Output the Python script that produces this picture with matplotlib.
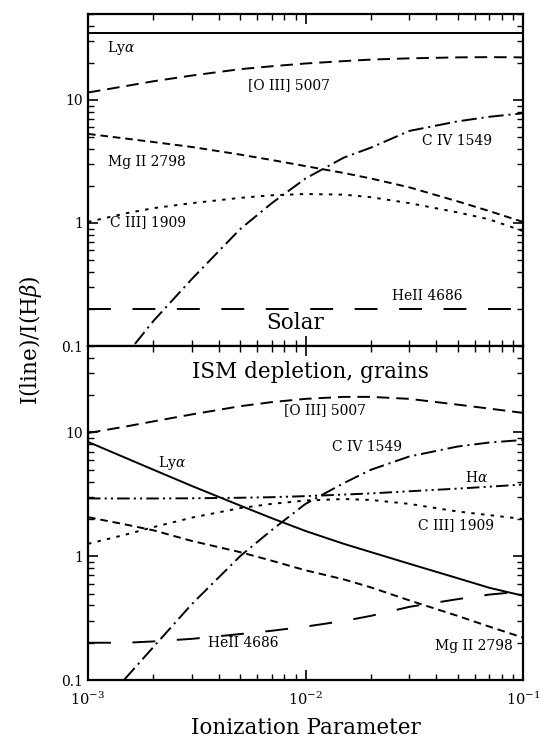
import numpy as np
import matplotlib
matplotlib.use('Agg')
import matplotlib.pyplot as plt
from matplotlib.ticker import FuncFormatter, LogFormatterMathtext, NullFormatter

plt.rcParams['font.family'] = ['DejaVu Serif']
plt.rcParams['mathtext.fontset'] = 'dejavuserif'
plt.rcParams['lines.scale_dashes'] = False

# ionization parameter grid
ion_par = [1e-3, 1.5e-3, 2e-3, 3e-3, 5e-3, 7e-3, 1e-2, 1.5e-2, 2e-2, 3e-2, 5e-2, 7e-2, 1e-1]

# solar abundances (top panel)
solar_lya = [35, 35, 35, 35, 35, 35, 35, 35, 35, 35, 35, 35, 35]
solar_oiii = [11.5, 13.0, 14.2, 15.8, 17.8, 18.8, 19.8, 20.7, 21.3, 21.8, 22.2, 22.3, 22.2]
solar_mgii = [5.3, 4.85, 4.55, 4.15, 3.6, 3.25, 2.9, 2.55, 2.3, 1.95, 1.5, 1.25, 1.02]
solar_ciii = [1.02, 1.2, 1.32, 1.45, 1.6, 1.68, 1.72, 1.7, 1.62, 1.45, 1.22, 1.07, 0.86]
solar_civ = [0.03, 0.085, 0.16, 0.35, 0.89, 1.45, 2.3, 3.4, 4.1, 5.6, 6.7, 7.3, 7.8]
solar_heii = [0.2, 0.2, 0.2, 0.2, 0.2, 0.2, 0.2, 0.2, 0.2, 0.2, 0.2, 0.2, 0.2]

# ISM depletion with grains (bottom panel)
ism_oiii = [9.9, 11.2, 12.3, 14.0, 16.3, 17.6, 18.7, 19.4, 19.4, 18.7, 16.8, 15.6, 14.4]
ism_lya = [8.4, 6.2, 5.0, 3.7, 2.57, 2.03, 1.6, 1.26, 1.08, 0.87, 0.665, 0.556, 0.48]
ism_halpha = [2.93, 2.93, 2.93, 2.94, 2.97, 3.0, 3.06, 3.15, 3.22, 3.35, 3.52, 3.65, 3.8]
ism_ciii = [1.26, 1.5, 1.72, 2.05, 2.45, 2.65, 2.82, 2.9, 2.85, 2.65, 2.3, 2.15, 2.0]
ism_mgii = [2.07, 1.8, 1.62, 1.33, 1.08, 0.92, 0.77, 0.65, 0.56, 0.44, 0.33, 0.27, 0.22]
ism_heii = [0.2, 0.2, 0.205, 0.215, 0.235, 0.25, 0.27, 0.3, 0.33, 0.39, 0.45, 0.49, 0.52]
ism_civ = [0.048, 0.105, 0.185, 0.41, 1.0, 1.63, 2.65, 3.9, 5.0, 6.4, 7.7, 8.3, 8.7]

# line styles (dash patterns in points)
styles = {
    'lya': '-',
    'oiii': (0, (9, 5)),
    'heii': (0, (16.5, 15.5)),
    'mgii': (0, (5.5, 3.5)),
    'ciii': (0, (2.5, 4.5)),
    'civ': (0, (11, 3.5, 1.5, 3.5)),
    'halpha': (0, (9, 3, 1.5, 3, 1.5, 3)),
}
lw = 1.4


def setup_axis(ax, show_x):
    ax.set_xscale('log')
    ax.set_yscale('log')
    ax.set_xlim(1e-3, 1e-1)
    ax.set_ylim(0.1, 50)
    ax.tick_params(which='both', direction='in', top=True, right=True, colors='black')
    ax.tick_params(which='major', length=7, width=1.2, labelsize=10)
    ax.tick_params(which='minor', length=4, width=1.0)
    ax.yaxis.set_major_formatter(FuncFormatter(lambda v, p: '%g' % v))
    ax.yaxis.set_minor_formatter(NullFormatter())
    if show_x:
        ax.xaxis.set_major_formatter(LogFormatterMathtext())
        ax.tick_params(axis='x', which='major', pad=8, labelsize=10.5)
    else:
        ax.xaxis.set_major_formatter(NullFormatter())
    ax.xaxis.set_minor_formatter(NullFormatter())
    for s in ax.spines.values():
        s.set_linewidth(1.6)


fig = plt.figure(figsize=(5.4, 7.4), dpi=100)
left, width = 88 / 540, (523 - 88) / 540
ax1 = fig.add_axes([left, 1 - 346 / 740, width, 332 / 740])
ax2 = fig.add_axes([left, 1 - 680 / 740, width, 334 / 740])

# top panel: solar
ax1.plot(ion_par, solar_lya, color='black', lw=lw, ls=styles['lya'])
ax1.plot(ion_par, solar_oiii, color='black', lw=lw, ls=styles['oiii'])
ax1.plot(ion_par, solar_mgii, color='black', lw=lw, ls=styles['mgii'])
ax1.plot(ion_par, solar_ciii, color='black', lw=lw, ls=styles['ciii'])
ax1.plot(ion_par, solar_civ, color='black', lw=lw, ls=styles['civ'])
ax1.plot(ion_par, solar_heii, color='black', lw=lw, ls=styles['heii'])
setup_axis(ax1, False)

fs = 10
ax1.text(1.22e-3, 26.6, r'Ly$\alpha$', fontsize=fs, va='center')
ax1.text(8.36e-3, 13.1, '[O III] 5007', fontsize=fs, ha='center', va='center')
ax1.text(1.236e-3, 3.11, 'Mg II 2798', fontsize=fs, va='center')
ax1.text(1.26e-3, 1.01, 'C III] 1909', fontsize=fs, va='center')
ax1.text(10 ** -1.464, 4.67, 'C IV 1549', fontsize=fs, va='center')
ax1.text(10 ** -1.602, 0.256, 'HeII 4686', fontsize=fs, va='center')
ax1.text(10 ** -2.048, 0.153, 'Solar', fontsize=15.5, ha='center', va='center')

# bottom panel: ISM depletion
ax2.plot(ion_par, ism_oiii, color='black', lw=lw, ls=styles['oiii'])
ax2.plot(ion_par, ism_lya, color='black', lw=lw, ls=styles['lya'])
ax2.plot(ion_par, ism_halpha, color='black', lw=lw, ls=styles['halpha'])
ax2.plot(ion_par, ism_ciii, color='black', lw=lw, ls=styles['ciii'])
ax2.plot(ion_par, ism_mgii, color='black', lw=lw, ls=styles['mgii'])
ax2.plot(ion_par, ism_heii, color='black', lw=lw, ls=styles['heii'])
ax2.plot(ion_par, ism_civ, color='black', lw=lw, ls=styles['civ'])
setup_axis(ax2, True)

ax2.text(10 ** -1.975, 31.1, 'ISM depletion, grains', fontsize=15.5, ha='center', va='center')
ax2.text(10 ** -1.911, 15.3, '[O III] 5007', fontsize=fs, ha='center', va='center')
ax2.text(10 ** -1.88, 7.7, 'C IV 1549', fontsize=fs, va='center')
ax2.text(10 ** -1.267, 4.29, r'H$\alpha$', fontsize=fs, va='center')
ax2.text(10 ** -1.483, 1.78, 'C III] 1909', fontsize=fs, va='center')
ax2.text(10 ** -2.678, 5.68, r'Ly$\alpha$', fontsize=fs, va='center')
ax2.text(10 ** -2.448, 0.2, 'HeII 4686', fontsize=fs, va='center')
ax2.text(10 ** -1.405, 0.188, 'Mg II 2798', fontsize=fs, va='center')

ax2.set_xlabel('Ionization Parameter', fontsize=15.5, labelpad=6)
fig.text(30 / 540, 1 - 340 / 740, r'I(line)/I(H$\beta$)', fontsize=15.5,
         rotation=90, ha='center', va='center')

fig.savefig('out.png', dpi=100)
